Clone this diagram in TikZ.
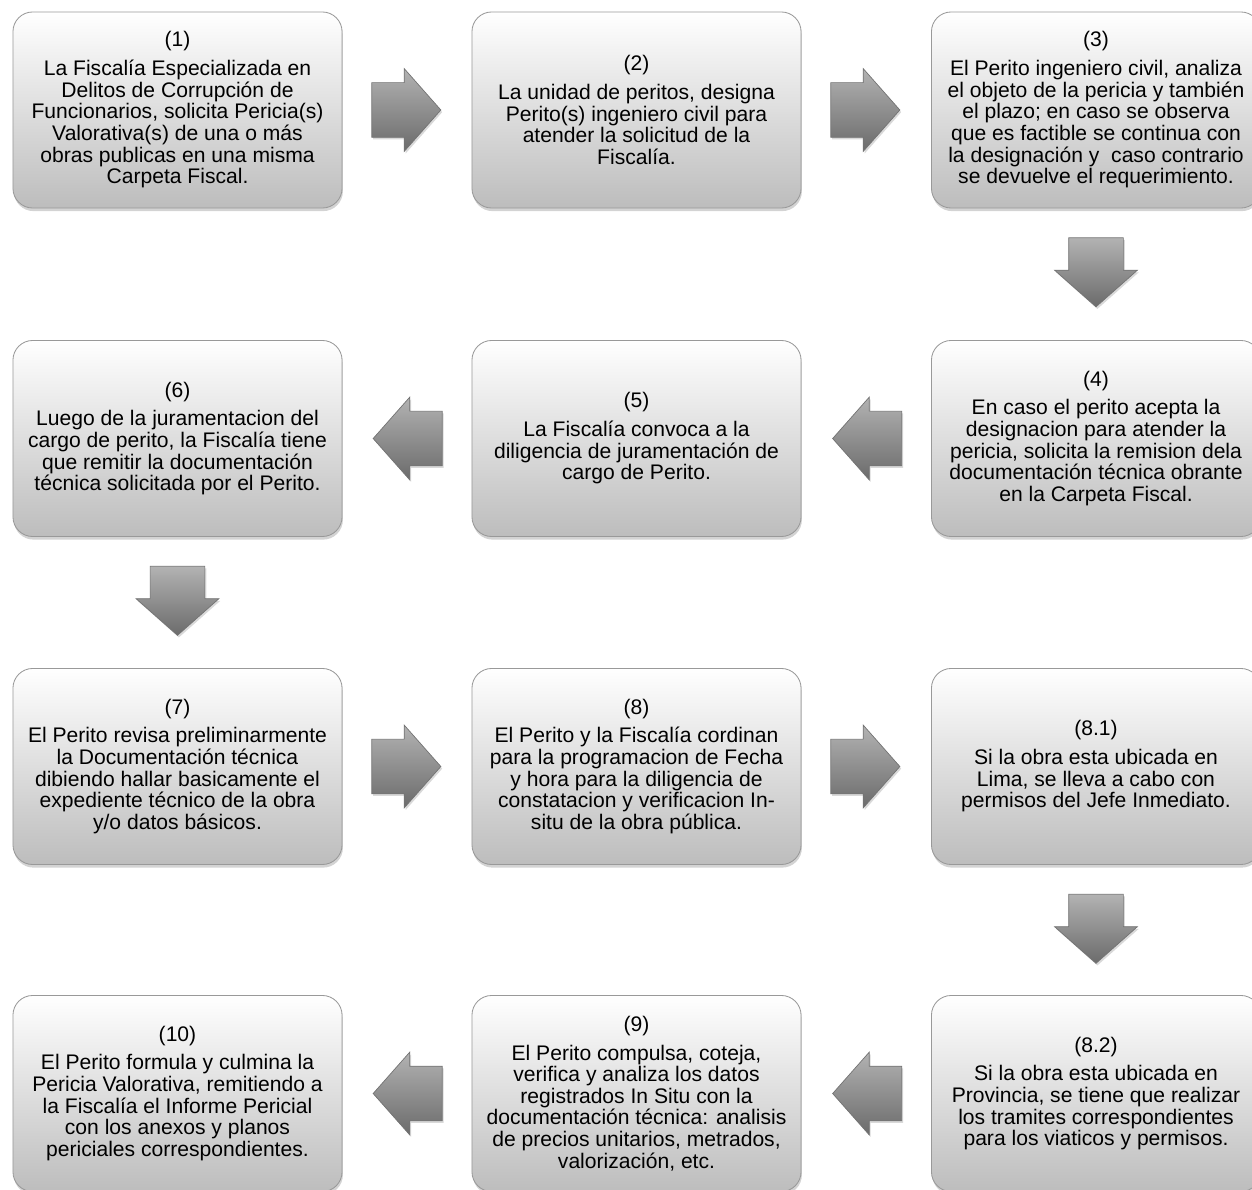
\documentclass[tikz,border=0pt]{standalone}
\usepackage{fontspec}
\setmainfont{Liberation Sans}
\usetikzlibrary{calc}
\usetikzlibrary{shapes.arrows}
\usetikzlibrary{shadows}

\tikzset{
    paso/.style={rectangle, rounded corners=14pt, minimum width=8.225cm, minimum height=4.9cm,
        top color=white, bottom color=black!26, draw=black!40, line width=.6pt,
        align=center, font=\fontsize{15pt}{15.4pt}\selectfont,
        drop shadow={opacity=.35, shadow xshift=.6pt, shadow yshift=-2.2pt}},
    flecha/.style={single arrow, minimum height=1.725cm, minimum width=2.05cm,
        single arrow head extend=.35cm, single arrow tip angle=97, anchor=tail,
        inner xsep=0pt, inner ysep=.675cm,
        top color=black!30, bottom color=black!58, draw=black!55, line width=.5pt,
        drop shadow={opacity=.3, shadow xshift=1pt, shadow yshift=-1.5pt}},
    flechabaja/.style={flecha, shape border rotate=270, inner xsep=.675cm, inner ysep=0pt}
}

\begin{document}
\begin{tikzpicture}[x=0.025cm,y=-0.025cm]
            \useasboundingbox (0,0) rectangle (1252,1190);
            \clip (0,0) rectangle (1252,1190);

            \node[paso] (s1) at (177.5,110) {(1)\\[5pt]La Fiscalía Especializada en\\Delitos de Corrupción de\\Funcionarios, solicita Pericia(s)\\Valorativa(s) de una o más\\obras publicas en una misma\\Carpeta Fiscal.};
            \node[paso] (s2) at (636.5,110) {(2)\\[5pt]La unidad de peritos, designa\\Perito(s) ingeniero civil para\\atender la solicitud de la\\Fiscalía.};
            \node[paso] (s3) at (1096,110) {(3)\\[5pt]El Perito ingeniero civil, analiza\\el objeto de la pericia y también\\el plazo; en caso se observa\\que es factible se continua con\\la designación y\ \ caso contrario\\se devuelve el requerimiento.};

            \node[paso] (s4) at (1096,438.5) {(4)\\[5pt]En caso el perito acepta la\\designacion para atender la\\pericia, solicita la remision dela\\documentación técnica obrante\\en la Carpeta Fiscal.};
            \node[paso] (s5) at (636.5,438.5) {(5)\\[5pt]La Fiscalía convoca a la\\diligencia de juramentación de\\cargo de Perito.};
            \node[paso] (s6) at (177.5,438.5) {(6)\\[5pt]Luego de la juramentacion del\\cargo de perito, la Fiscalía tiene\\que remitir la documentación\\técnica solicitada por el Perito.};

            \node[paso] (s7) at (177.5,766.5) {(7)\\[5pt]El Perito revisa preliminarmente\\la Documentación técnica\\dibiendo hallar basicamente el\\expediente técnico de la obra\\y/o datos básicos.};
            \node[paso] (s8) at (636.5,766.5) {(8)\\[5pt]El Perito y la Fiscalía cordinan\\para la programacion de Fecha\\y hora para la diligencia de\\constatacion y verificacion In-\\situ de la obra pública.};
            \node[paso] (s81) at (1096,766.5) {(8.1)\\[5pt]Si la obra esta ubicada en\\Lima, se lleva a cabo con\\permisos del Jefe Inmediato.};

            \node[paso] (s82) at (1096,1093.5) {(8.2)\\[5pt]Si la obra esta ubicada en\\Provincia, se tiene que realizar\\los tramites correspondientes\\para los viaticos y permisos.};
            \node[paso] (s9) at (636.5,1093.5) {(9)\\[5pt]El Perito compulsa, coteja,\\verifica y analiza los datos\\registrados In Situ con la\\documentación técnica: analisis\\de precios unitarios, metrados,\\valorización, etc.};
            \node[paso] (s10) at (177.5,1093.5) {(10)\\[5pt]El Perito formula y culmina la\\Pericia Valorativa, remitiendo a\\la Fiscalía el Informe Pericial\\con los anexos y planos\\periciales correspondientes.};

            \foreach \a in {s1,s2,s7,s8}{
                \node[flecha] (f\a) at ($(\a.east)+(29,0)$) {};
            }
            \foreach \a in {s4,s5,s82,s9}{
                \node[flecha, shape border rotate=180] (f\a) at ($(\a.west)+(-29,0)$) {};
            }
            \foreach \a in {s3,s6,s81}{
                \node[flechabaja] (f\a) at ($(\a.south)+(0,29)$) {};
            }

        \end{tikzpicture}
\end{document}
